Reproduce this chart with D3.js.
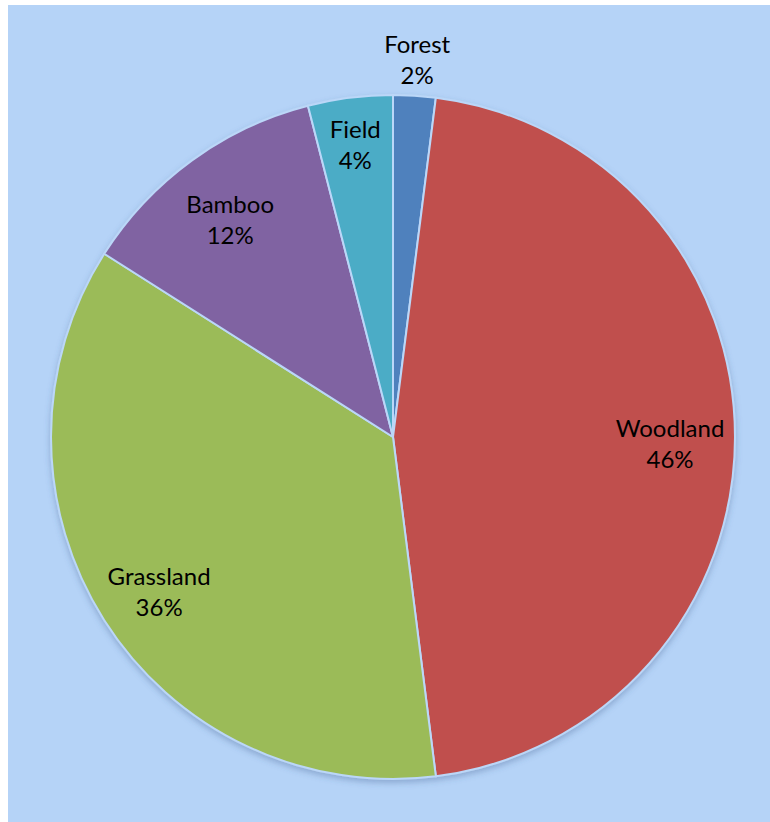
<!DOCTYPE html>
<html>
<head>
<meta charset="utf-8">
<script src="https://cdn.jsdelivr.net/npm/d3@7"></script>
<style>
  body { margin: 0; background: #ffffff; }
  svg text { font-family: Lato, "Open Sans", sans-serif; }
</style>
</head>
<body>
<div id="chart"></div>
<script>
// slice data, clockwise from 12 o'clock
var categories = ["Forest", "Woodland", "Grassland", "Bamboo", "Field"];
var shares = [2, 46, 36, 12, 4];
var colours = ["#4F81BD", "#C0504D", "#9BBB59", "#8064A2", "#4BACC6"];

var width = 770, height = 822;
var cx = 393, cy = 437, radius = 342;

var data = categories.map((c, i) => ({ name: c, value: shares[i], colour: colours[i] }));

const svg = d3.select("#chart")
    .append("svg")
    .attr("width", width)
    .attr("height", height);

// chart area background
svg.append("rect")
    .attr("x", 8)
    .attr("y", 5)
    .attr("width", width - 8)
    .attr("height", height - 5)
    .attr("fill", "#B5D3F7");

// soft shadow under the pie
const defs = svg.append("defs");
const shadow = defs.append("filter")
    .attr("id", "shadow")
    .attr("x", "-10%").attr("y", "-10%")
    .attr("width", "120%").attr("height", "120%");
shadow.append("feDropShadow")
    .attr("dx", 0).attr("dy", 3)
    .attr("stdDeviation", 3)
    .attr("flood-color", "#3a5a8a")
    .attr("flood-opacity", 0.35);

const chart = svg.append("g")
    .attr("transform", `translate(${cx}, ${cy})`);

const pie = d3.pie()
    .value(d => d.value)
    .sort(null);

const arc = d3.arc()
    .innerRadius(0)
    .outerRadius(radius);

// label radius: narrow slices push their label further out
function labelRadius(v) {
    if (v < 3) return radius * 1.125;
    if (v < 5) return radius * 0.88;
    return radius * 0.81;
}

const arcs = pie(data);

chart.append("g")
    .attr("filter", "url(#shadow)")
    .selectAll("path")
    .data(arcs)
    .enter()
    .append("path")
    .attr("d", arc)
    .attr("fill", d => d.data.colour)
    .attr("stroke", "#BBD7F8")
    .attr("stroke-width", 2)
    .attr("stroke-linejoin", "round");

const labels = chart.selectAll(".label")
    .data(arcs)
    .enter()
    .append("text")
    .attr("class", "label")
    .attr("transform", d => {
        const r = labelRadius(d.data.value);
        const p = d3.arc().innerRadius(r).outerRadius(r).centroid(d);
        return `translate(${p[0]}, ${p[1]})`;
    })
    .style("text-anchor", "middle")
    .style("font-size", "24px")
    .attr("fill", "#000000");

labels.append("tspan")
    .attr("x", 0)
    .attr("y", 0)
    .text(d => d.data.name);

labels.append("tspan")
    .attr("x", 0)
    .attr("y", 31)
    .text(d => d.data.value + "%");
</script>
</body>
</html>
